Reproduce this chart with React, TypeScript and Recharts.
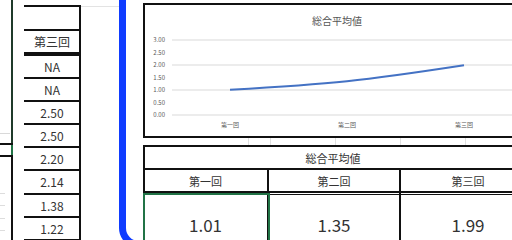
import { CartesianGrid, Line, LineChart, XAxis, YAxis } from "recharts";

const rounds = ["第一回", "第二回", "第三回"];
const averages = [1.01, 1.35, 1.99];
const yTicks = [0, 0.5, 1, 1.5, 2, 2.5, 3];
const thirdRoundValues = ["NA", "NA", "2.50", "2.50", "2.20", "2.14", "1.38", "1.22"];
const chartTitle = "総合平均値";

const chartData = rounds.map((name, i) => ({ name, avg: averages[i] }));

const FONT = '"Noto Sans CJK JP", "Noto Sans", sans-serif';
const GREEN = "#217346";

function abs(left: number, top: number, width: number, height: number, extra: React.CSSProperties = {}): React.CSSProperties {
  return { position: "absolute", left, top, width, height, boxSizing: "border-box", ...extra };
}

function LeftTable() {
  const rowTops = [54, 77, 100, 123, 146, 169, 193, 216];
  return (
    <>
      {/* left edge of another block */}
      <div style={abs(11, 0, 2, 145, { background: "#1f3a2a" })} />
      <div style={abs(0, 143, 13, 2, { background: "#111" })} />
      <div style={abs(11, 145, 2, 10, { background: GREEN })} />
      <div style={abs(0, 133, 10, 1, { background: "#d9d9d9" })} />
      <div style={abs(0, 155, 13, 2, { background: "#111" })} />
      <div style={abs(11, 155, 2, 90, { background: "#111" })} />
      {[193, 205, 218, 230].map((y) => (
        <div key={y} style={abs(0, y, 5, 1, { background: "#ddd" })} />
      ))}
      {/* third round column */}
      <div style={abs(80, 6, 40, 1, { background: "#e3e3e3" })} />
      <div style={abs(24, 5, 57, 2, { background: "#111" })} />
      <div style={abs(79, 5, 2, 240, { background: "#111" })} />
      <div style={abs(24, 29, 56, 1.5, { background: "#111" })} />
      <div style={abs(24, 29, 56, 25, { display: "flex", alignItems: "center", justifyContent: "center", fontSize: 12, color: "#333", fontFamily: FONT })}>
        第三回
      </div>
      <div style={abs(24, 52, 56, 1.5, { background: "#111" })} />
      {thirdRoundValues.map((v, i) => (
        <div key={i}>
          <div style={abs(24, rowTops[i], 56, 1.5, { background: "#111" })} />
          <div style={abs(24, rowTops[i] + 1, 56, 22, { display: "flex", alignItems: "center", justifyContent: "center", fontSize: 12, color: "#333", fontFamily: FONT })}>
            {v}
          </div>
        </div>
      ))}
      <div style={abs(24, 239, 56, 1.5, { background: "#111" })} />
    </>
  );
}

function AverageChart() {
  return (
    <div style={abs(143, 3, 390, 135, { border: "2px solid #111", background: "#fff" })}>
      <div style={{ position: "absolute", left: 0, top: 8, width: 386, fontSize: 10, color: "#555", fontFamily: FONT }}>
        <div style={{ position: "absolute", left: 192 - 60, width: 120, textAlign: "center" }}>{chartTitle}</div>
      </div>
      <div style={{ position: "absolute", left: 0, top: 0 }}>
        <LineChart width={386} height={131} data={chartData} margin={{ top: 35, right: 9, bottom: 0, left: 0 }}>
          <CartesianGrid stroke="#d9d9d9" vertical={false} />
          <XAxis
            dataKey="name"
            axisLine={false}
            tickLine={false}
            tickSize={0}
            tickMargin={8}
            height={21}
            padding={{ left: 58, right: 58 }}
            tick={{ fill: "#595959", fontSize: 6, fontFamily: FONT }}
          />
          <YAxis
            domain={[0, 3]}
            ticks={yTicks}
            axisLine={false}
            tickLine={false}
            tickSize={0}
            tickMargin={7}
            width={27}
            tickFormatter={(v: number) => v.toFixed(2)}
            tick={{ fill: "#595959", fontSize: 6, fontFamily: FONT }}
          />
          <Line
            type="monotone"
            dataKey="avg"
            stroke="#4472C4"
            strokeWidth={2.25}
            dot={false}
            isAnimationActive={false}
          />
        </LineChart>
      </div>
    </div>
  );
}

function AverageTable() {
  const cols = [
    { left: 143, width: 125 },
    { left: 268, width: 132 },
    { left: 400, width: 136 },
  ];
  const cell: React.CSSProperties = { display: "flex", alignItems: "center", justifyContent: "center", fontFamily: FONT, color: "#333" };
  return (
    <>
      {/* sheet gridlines between chart and table */}
      {[248, 270, 335, 400, 465].map((x) => (
        <div key={x} style={abs(x, 138, 1, 7, { background: "#e0e0e0" })} />
      ))}
      <div style={abs(143, 145, 380, 2, { background: "#111" })} />
      <div style={abs(143, 145, 2, 100, { background: "#111" })} />
      <div style={abs(143, 147, 380, 21, { ...cell, fontSize: 11 })}>{chartTitle}</div>
      <div style={abs(143, 168, 380, 2, { background: "#111" })} />
      {cols.map((c, i) => (
        <div key={i}>
          {i > 0 && <div style={abs(c.left - 1, 168, 2, 80, { background: "#111" })} />}
          <div style={abs(c.left, 170, c.width, 22, { ...cell, fontSize: 11 })}>{rounds[i]}</div>
          <div style={abs(c.left, 194, c.width, 46, { ...cell, fontSize: 17, paddingTop: 14 })}>
            {averages[i].toFixed(2)}
          </div>
        </div>
      ))}
      <div style={abs(143, 191, 380, 1.5, { background: "#111" })} />
      <div style={abs(143, 193.5, 380, 1.5, { background: "#111" })} />
      {/* selected cell */}
      <div style={abs(143, 193, 127, 50, { border: `2px solid ${GREEN}` })} />
    </>
  );
}

export default function App() {
  return (
    <div style={{ position: "fixed", left: 0, top: 0, width: 512, height: 240, overflow: "hidden", background: "#fff" }}>
      <LeftTable />
      <div style={abs(119, -30, 420, 278, { border: "7px solid #0f3cff", borderRadius: 20 })} />
      <AverageChart />
      <AverageTable />
    </div>
  );
}
